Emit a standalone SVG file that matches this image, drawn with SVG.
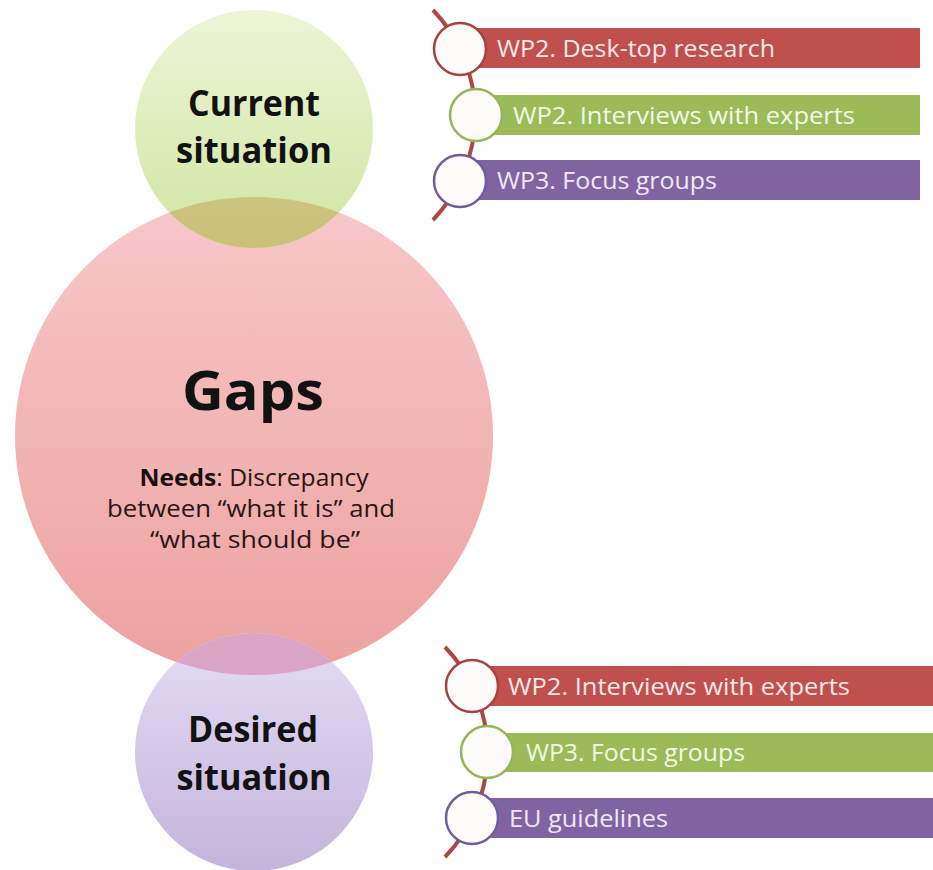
<svg xmlns="http://www.w3.org/2000/svg" width="933" height="870" viewBox="0 0 933 870">
<style>
  .title { font-family: "Open Sans", "Liberation Sans", sans-serif; font-weight: 700; fill: #121212; text-anchor: middle; }
  .body { font-family: "Open Sans", "Liberation Sans", sans-serif; font-size: 24px; fill: #2a1414; text-anchor: middle; }
  .bar { font-family: "Open Sans", "Liberation Sans", sans-serif; font-size: 24px; }
  .arc { fill: none; stroke: #b04644; stroke-width: 4; }
  .dot { fill: #fdfafa; stroke-width: 2.5; }
</style>
<defs>
  <linearGradient id="gGreen" x1="0" y1="0" x2="0" y2="1">
    <stop offset="0" stop-color="#edf5d6"/>
    <stop offset="1" stop-color="#d1e5a3"/>
  </linearGradient>
  <linearGradient id="gPink" x1="0" y1="0" x2="0" y2="1">
    <stop offset="0" stop-color="#f7c8c8"/>
    <stop offset="1" stop-color="#eca29f"/>
  </linearGradient>
  <linearGradient id="gPurple" x1="0" y1="0" x2="0" y2="1">
    <stop offset="0" stop-color="#e4ddf4"/>
    <stop offset="1" stop-color="#c4b4dc"/>
  </linearGradient>
  <linearGradient id="gOlive" x1="0" y1="0" x2="0" y2="1">
    <stop offset="0" stop-color="#d8cf96"/>
    <stop offset="1" stop-color="#c9c07a"/>
  </linearGradient>
  <linearGradient id="gMauve" x1="0" y1="0" x2="0" y2="1">
    <stop offset="0" stop-color="#dba6c6"/>
    <stop offset="1" stop-color="#d79dbd"/>
  </linearGradient>
  <clipPath id="clipGaps">
    <circle cx="254" cy="436" r="239"/>
  </clipPath>
</defs>

<g id="gaps">
  <circle cx="254" cy="436" r="239" fill="url(#gPink)"/>
</g>

<g id="current-situation">
  <circle cx="254" cy="129" r="119" fill="url(#gGreen)"/>
  <circle cx="254" cy="129" r="119" fill="url(#gOlive)" clip-path="url(#clipGaps)"/>
  <text class="title" x="254" y="116" font-size="35" textLength="132" lengthAdjust="spacingAndGlyphs">Current</text>
  <text class="title" x="254" y="163" font-size="35" textLength="156" lengthAdjust="spacingAndGlyphs">situation</text>
</g>

<g id="desired-situation">
  <circle cx="254" cy="752" r="119" fill="url(#gPurple)"/>
  <circle cx="254" cy="752" r="119" fill="url(#gMauve)" clip-path="url(#clipGaps)"/>
  <text class="title" x="253" y="742" font-size="36" textLength="130" lengthAdjust="spacingAndGlyphs">Desired</text>
  <text class="title" x="254" y="790" font-size="36" textLength="155" lengthAdjust="spacingAndGlyphs">situation</text>
</g>

<g id="gaps-text">
  <text class="title" x="253" y="410" font-size="53" textLength="142" lengthAdjust="spacingAndGlyphs">Gaps</text>
  <text class="body" x="254" y="486" textLength="229" lengthAdjust="spacingAndGlyphs"><tspan font-weight="700" fill="#1a0e0e">Needs</tspan>: Discrepancy</text>
  <text class="body" x="251" y="517" textLength="288" lengthAdjust="spacingAndGlyphs">between “what it is” and</text>
  <text class="body" x="255" y="548" textLength="210" lengthAdjust="spacingAndGlyphs">“what should be”</text>
</g>

<g id="connectors">
  <path class="arc" d="M 433 10 A 152 152 0 0 1 433 220"/>
  <path class="arc" d="M 445 647 A 151 151 0 0 1 445 857"/>
</g>

<g id="top-item-1">
  <rect x="460" y="28" width="460" height="40" fill="#c0504d"/>
  <circle class="dot" cx="460" cy="49" r="26" stroke="#a8423f"/>
  <text class="bar" x="497" y="57" fill="#fbeaea" textLength="278" lengthAdjust="spacingAndGlyphs">WP2. Desk-top research</text>
</g>
<g id="top-item-2">
  <rect x="476" y="95" width="444" height="40" fill="#9bbb59"/>
  <circle class="dot" cx="476" cy="115" r="26" stroke="#95b557"/>
  <text class="bar" x="513" y="124" fill="#f3f8e6" textLength="342" lengthAdjust="spacingAndGlyphs">WP2. Interviews with experts</text>
</g>
<g id="top-item-3">
  <rect x="460" y="160" width="460" height="40" fill="#8064a2"/>
  <circle class="dot" cx="460" cy="181" r="26" stroke="#705c9c"/>
  <text class="bar" x="497" y="189" fill="#eee8f6" textLength="220" lengthAdjust="spacingAndGlyphs">WP3. Focus groups</text>
</g>

<g id="bottom-item-1">
  <rect x="472" y="666" width="461" height="40" fill="#c0504d"/>
  <circle class="dot" cx="472" cy="686" r="26" stroke="#a8423f"/>
  <text class="bar" x="508" y="695" fill="#fbeaea" textLength="342" lengthAdjust="spacingAndGlyphs">WP2. Interviews with experts</text>
</g>
<g id="bottom-item-2">
  <rect x="487" y="733" width="446" height="39" fill="#9bbb59"/>
  <circle class="dot" cx="487" cy="752" r="26" stroke="#95b557"/>
  <text class="bar" x="526" y="761" fill="#f3f8e6" textLength="219" lengthAdjust="spacingAndGlyphs">WP3. Focus groups</text>
</g>
<g id="bottom-item-3">
  <rect x="472" y="798" width="461" height="40" fill="#8064a2"/>
  <circle class="dot" cx="472" cy="818" r="26" stroke="#705c9c"/>
  <text class="bar" x="509" y="827" fill="#eee8f6" textLength="159" lengthAdjust="spacingAndGlyphs">EU guidelines</text>
</g>
</svg>
